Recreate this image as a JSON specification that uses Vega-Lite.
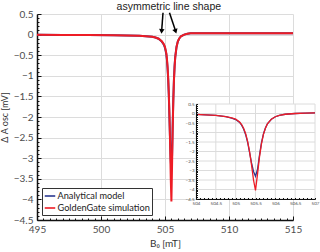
{
  "$schema": "https://vega.github.io/schema/vega-lite/v6.json",
  "width": 256,
  "height": 206,
  "autosize": {"type": "none"},
  "padding": {"left": 37, "top": 14, "right": 27, "bottom": 32},
  "config": {
    "view": {"stroke": null},
    "font": "Lato",
    "axis": {
      "labelFont": "Lato",
      "titleFont": "Lato",
      "labelColor": "#4d4d4d",
      "titleColor": "#333333",
      "titleFontWeight": "normal",
      "domainColor": "#111111",
      "tickColor": "#111111",
      "gridColor": "#dcdcdc",
      "labelOverlap": false,
      "labelFlush": false
    }
  },
  "datasets": {
    "curves": [
      {"B": 495, "A": -0.005, "series": "Analytical model"},
      {"B": 497, "A": -0.008, "series": "Analytical model"},
      {"B": 499, "A": -0.01, "series": "Analytical model"},
      {"B": 501, "A": -0.015, "series": "Analytical model"},
      {"B": 502, "A": -0.02, "series": "Analytical model"},
      {"B": 503, "A": -0.03, "series": "Analytical model"},
      {"B": 503.5, "A": -0.04, "series": "Analytical model"},
      {"B": 504, "A": -0.05, "series": "Analytical model"},
      {"B": 504.25, "A": -0.07, "series": "Analytical model"},
      {"B": 504.5, "A": -0.1, "series": "Analytical model"},
      {"B": 504.75, "A": -0.17, "series": "Analytical model"},
      {"B": 504.9, "A": -0.24, "series": "Analytical model"},
      {"B": 505, "A": -0.32, "series": "Analytical model"},
      {"B": 505.1, "A": -0.47, "series": "Analytical model"},
      {"B": 505.15, "A": -0.61, "series": "Analytical model"},
      {"B": 505.2, "A": -0.82, "series": "Analytical model"},
      {"B": 505.25, "A": -1.1, "series": "Analytical model"},
      {"B": 505.3, "A": -1.5, "series": "Analytical model"},
      {"B": 505.35, "A": -2.05, "series": "Analytical model"},
      {"B": 505.4, "A": -2.6, "series": "Analytical model"},
      {"B": 505.45, "A": -3.05, "series": "Analytical model"},
      {"B": 505.5, "A": -3.3, "series": "Analytical model"},
      {"B": 505.55, "A": -2.95, "series": "Analytical model"},
      {"B": 505.6, "A": -2.2, "series": "Analytical model"},
      {"B": 505.65, "A": -1.55, "series": "Analytical model"},
      {"B": 505.7, "A": -1.08, "series": "Analytical model"},
      {"B": 505.75, "A": -0.76, "series": "Analytical model"},
      {"B": 505.8, "A": -0.54, "series": "Analytical model"},
      {"B": 505.9, "A": -0.3, "series": "Analytical model"},
      {"B": 506, "A": -0.17, "series": "Analytical model"},
      {"B": 506.1, "A": -0.1, "series": "Analytical model"},
      {"B": 506.25, "A": -0.04, "series": "Analytical model"},
      {"B": 506.5, "A": 0.0, "series": "Analytical model"},
      {"B": 506.75, "A": 0.02, "series": "Analytical model"},
      {"B": 507, "A": 0.03, "series": "Analytical model"},
      {"B": 508, "A": 0.03, "series": "Analytical model"},
      {"B": 510, "A": 0.03, "series": "Analytical model"},
      {"B": 512, "A": 0.03, "series": "Analytical model"},
      {"B": 515, "A": 0.03, "series": "Analytical model"},
      {"B": 495, "A": -0.005, "series": "GoldenGate simulation"},
      {"B": 497, "A": -0.008, "series": "GoldenGate simulation"},
      {"B": 499, "A": -0.01, "series": "GoldenGate simulation"},
      {"B": 501, "A": -0.015, "series": "GoldenGate simulation"},
      {"B": 502, "A": -0.02, "series": "GoldenGate simulation"},
      {"B": 503, "A": -0.03, "series": "GoldenGate simulation"},
      {"B": 503.5, "A": -0.04, "series": "GoldenGate simulation"},
      {"B": 504, "A": -0.05, "series": "GoldenGate simulation"},
      {"B": 504.25, "A": -0.07, "series": "GoldenGate simulation"},
      {"B": 504.5, "A": -0.1, "series": "GoldenGate simulation"},
      {"B": 504.75, "A": -0.16, "series": "GoldenGate simulation"},
      {"B": 504.9, "A": -0.23, "series": "GoldenGate simulation"},
      {"B": 505, "A": -0.3, "series": "GoldenGate simulation"},
      {"B": 505.1, "A": -0.45, "series": "GoldenGate simulation"},
      {"B": 505.15, "A": -0.58, "series": "GoldenGate simulation"},
      {"B": 505.2, "A": -0.78, "series": "GoldenGate simulation"},
      {"B": 505.25, "A": -1.05, "series": "GoldenGate simulation"},
      {"B": 505.3, "A": -1.45, "series": "GoldenGate simulation"},
      {"B": 505.35, "A": -2.0, "series": "GoldenGate simulation"},
      {"B": 505.4, "A": -2.7, "series": "GoldenGate simulation"},
      {"B": 505.45, "A": -3.5, "series": "GoldenGate simulation"},
      {"B": 505.5, "A": -4.05, "series": "GoldenGate simulation"},
      {"B": 505.55, "A": -3.2, "series": "GoldenGate simulation"},
      {"B": 505.6, "A": -2.3, "series": "GoldenGate simulation"},
      {"B": 505.65, "A": -1.6, "series": "GoldenGate simulation"},
      {"B": 505.7, "A": -1.1, "series": "GoldenGate simulation"},
      {"B": 505.75, "A": -0.78, "series": "GoldenGate simulation"},
      {"B": 505.8, "A": -0.55, "series": "GoldenGate simulation"},
      {"B": 505.9, "A": -0.3, "series": "GoldenGate simulation"},
      {"B": 506, "A": -0.17, "series": "GoldenGate simulation"},
      {"B": 506.1, "A": -0.1, "series": "GoldenGate simulation"},
      {"B": 506.25, "A": -0.04, "series": "GoldenGate simulation"},
      {"B": 506.5, "A": 0.0, "series": "GoldenGate simulation"},
      {"B": 506.75, "A": 0.02, "series": "GoldenGate simulation"},
      {"B": 507, "A": 0.03, "series": "GoldenGate simulation"},
      {"B": 508, "A": 0.03, "series": "GoldenGate simulation"},
      {"B": 510, "A": 0.03, "series": "GoldenGate simulation"},
      {"B": 512, "A": 0.03, "series": "GoldenGate simulation"},
      {"B": 515, "A": 0.03, "series": "GoldenGate simulation"}
    ],
    "note": [{"B": 505.3, "A": 0.67, "label": "asymmetric line shape"}],
    "arrows": [
      {"B": 504.844, "A": 0.53, "B2": 504.74, "A2": 0.09, "side": "left"},
      {"B": 505.35, "A": 0.53, "B2": 505.828, "A2": 0.09, "side": "right"}
    ],
    "heads": [
      {"B": 504.737, "A": 0.08, "side": "left"},
      {"B": 505.83, "A": 0.08, "side": "right"}
    ],
    "box": [{"B": 504, "A": -4.5, "B2": 507, "A2": 0.5}],
    "igridv": [
      {"B": 504, "A": -4.5, "A2": 0.5},
      {"B": 504.5, "A": -4.5, "A2": 0.5},
      {"B": 505, "A": -4.5, "A2": 0.5},
      {"B": 505.5, "A": -4.5, "A2": 0.5},
      {"B": 506, "A": -4.5, "A2": 0.5},
      {"B": 506.5, "A": -4.5, "A2": 0.5},
      {"B": 507, "A": -4.5, "A2": 0.5}
    ],
    "igridh": [
      {"B": 504, "B2": 507, "A": 0.5},
      {"B": 504, "B2": 507, "A": 0},
      {"B": 504, "B2": 507, "A": -0.5},
      {"B": 504, "B2": 507, "A": -1},
      {"B": 504, "B2": 507, "A": -1.5},
      {"B": 504, "B2": 507, "A": -2},
      {"B": 504, "B2": 507, "A": -2.5},
      {"B": 504, "B2": 507, "A": -3},
      {"B": 504, "B2": 507, "A": -3.5},
      {"B": 504, "B2": 507, "A": -4},
      {"B": 504, "B2": 507, "A": -4.5}
    ]
  },
  "layer": [
    {
      "encoding": {
        "x": {
          "field": "B", "type": "quantitative",
          "scale": {"domain": [495, 515], "nice": false, "zero": false},
          "axis": {
            "title": "B₀ [mT]", "titleFontSize": 10, "titlePadding": 2,
            "orient": "bottom", "grid": true,
            "values": [495,495.5,496,496.5,497,497.5,498,498.5,499,499.5,500,500.5,501,501.5,502,502.5,503,503.5,504,504.5,505,505.5,506,506.5,507,507.5,508,508.5,509,509.5,510,510.5,511,511.5,512,512.5,513,513.5,514,514.5,515],
            "labelExpr": "datum.value % 5 === 0 ? format(datum.value, 'd') : ''",
            "labelFontSize": 10,
            "labelPadding": 8,
            "domainWidth": 1.5,
            "tickSize": {"condition": {"test": "datum.value % 5 === 0", "value": -4}, "value": -2},
            "gridOpacity": {"condition": {"test": "datum.value % 5 === 0", "value": 1}, "value": 0}
          }
        },
        "y": {
          "field": "A", "type": "quantitative",
          "scale": {"domain": [-4.5, 0.5], "nice": false, "zero": false},
          "axis": {
            "title": "Δ A osc [mV]", "titleFontSize": 9, "titlePadding": 4,
            "orient": "left", "grid": true,
            "values": [0.5,0.4,0.3,0.2,0.1,0,-0.1,-0.2,-0.3,-0.4,-0.5,-0.6,-0.7,-0.8,-0.9,-1,-1.1,-1.2,-1.3,-1.4,-1.5,-1.6,-1.7,-1.8,-1.9,-2,-2.1,-2.2,-2.3,-2.4,-2.5,-2.6,-2.7,-2.8,-2.9,-3,-3.1,-3.2,-3.3,-3.4,-3.5,-3.6,-3.7,-3.8,-3.9,-4,-4.1,-4.2,-4.3,-4.4,-4.5],
            "labelExpr": "abs(datum.value*2 - round(datum.value*2)) < 0.01 ? format(datum.value, '.2~f') : ''",
            "labelFontSize": 10,
            "labelPadding": 8,
            "domainWidth": 1.5,
            "tickSize": {"condition": {"test": "abs(datum.value*2 - round(datum.value*2)) < 0.01", "value": -4}, "value": -2},
            "gridOpacity": {"condition": {"test": "abs(datum.value*2 - round(datum.value*2)) < 0.01", "value": 1}, "value": 0}
          }
        }
      },
      "layer": [
        {
          "data": {"name": "curves"},
          "mark": {"type": "line", "strokeWidth": 2},
          "encoding": {
            "color": {
              "field": "series", "type": "nominal",
              "scale": {"domain": ["Analytical model", "GoldenGate simulation"], "range": ["#2b3990", "#ee1c25"]},
              "legend": {
                "title": null, "orient": "bottom-left", "offset": 5,
                "symbolType": "stroke", "symbolSize": 110, "symbolStrokeWidth": 1.6,
                "labelFont": "Lato", "labelFontSize": 9.2, "labelColor": "#222222", "labelOffset": 1,
                "strokeColor": "#333333", "fillColor": "white",
                "padding": 1.5, "rowPadding": 0
              }
            }
          }
        },
        {
          "data": {"name": "note"},
          "mark": {"type": "text", "fontSize": 10.5, "font": "Liberation Sans", "color": "#222222", "baseline": "middle"},
          "encoding": {"text": {"field": "label"}}
        },
        {
          "data": {"name": "arrows"},
          "mark": {"type": "rule", "color": "black", "strokeWidth": 1.5},
          "encoding": {"x2": {"field": "B2"}, "y2": {"field": "A2"}}
        },
        {
          "data": {"name": "heads"},
          "transform": [{"filter": "datum.side === 'left'"}],
          "mark": {"type": "point", "shape": "triangle-down", "filled": true, "color": "black", "opacity": 1, "size": 30, "angle": 4},
          "encoding": {}
        },
        {
          "data": {"name": "heads"},
          "transform": [{"filter": "datum.side === 'right'"}],
          "mark": {"type": "point", "shape": "triangle-down", "filled": true, "color": "black", "opacity": 1, "size": 30, "angle": 342},
          "encoding": {}
        }
      ]
    },
    {
      "encoding": {
        "x": {
          "field": "B", "type": "quantitative",
          "scale": {"domain": [504, 507], "range": [159, 278], "nice": false, "zero": false},
          "axis": {
            "title": null, "orient": "top", "offset": -185, "zindex": 2,
            "grid": false, "domain": true, "ticks": true, "labels": true,
            "values": [504,504.1,504.2,504.3,504.4,504.5,504.6,504.7,504.8,504.9,505,505.1,505.2,505.3,505.4,505.5,505.6,505.7,505.8,505.9,506,506.1,506.2,506.3,506.4,506.5,506.6,506.7,506.8,506.9,507],
            "labelExpr": "abs(datum.value*2 - round(datum.value*2)) < 0.01 ? format(datum.value, '.1~f') : ''",
            "labelFontSize": 4.5, "labelBaseline": "top", "labelPadding": -3,
            "domainWidth": 1,
            "tickSize": 1.5
          }
        },
        "y": {
          "field": "A", "type": "quantitative",
          "scale": {"domain": [-4.5, 0.5], "range": [185, 90], "nice": false, "zero": false},
          "axis": {
            "title": null, "orient": "right", "offset": -97, "zindex": 2,
            "grid": false, "domain": true, "ticks": true, "labels": true,
            "values": [0.5,0.4,0.3,0.2,0.1,0,-0.1,-0.2,-0.3,-0.4,-0.5,-0.6,-0.7,-0.8,-0.9,-1,-1.1,-1.2,-1.3,-1.4,-1.5,-1.6,-1.7,-1.8,-1.9,-2,-2.1,-2.2,-2.3,-2.4,-2.5,-2.6,-2.7,-2.8,-2.9,-3,-3.1,-3.2,-3.3,-3.4,-3.5,-3.6,-3.7,-3.8,-3.9,-4,-4.1,-4.2,-4.3,-4.4,-4.5],
            "labelExpr": "abs(datum.value*2 - round(datum.value*2)) < 0.01 ? format(datum.value, '.2~f') : ''",
            "labelFontSize": 4.5, "labelAlign": "right", "labelPadding": -3.5,
            "domainWidth": 1,
            "tickSize": 1.5
          }
        }
      },
      "layer": [
        {
          "data": {"name": "box"},
          "mark": {"type": "rect", "color": "white", "opacity": 1},
          "encoding": {"x2": {"field": "B2"}, "y2": {"field": "A2"}}
        },
        {
          "data": {"name": "igridv"},
          "mark": {"type": "rule", "color": "#dcdcdc", "strokeWidth": 1},
          "encoding": {"y2": {"field": "A2"}}
        },
        {
          "data": {"name": "igridh"},
          "mark": {"type": "rule", "color": "#dcdcdc", "strokeWidth": 1},
          "encoding": {"x2": {"field": "B2"}}
        },
        {
          "data": {"name": "curves"},
          "transform": [{"filter": "datum.B >= 504 && datum.B <= 507"}],
          "mark": {"type": "line", "strokeWidth": 1.3},
          "encoding": {
            "color": {"field": "series", "type": "nominal"}
          }
        }
      ]
    }
  ],
  "resolve": {
    "scale": {"x": "independent", "y": "independent"},
    "axis": {"x": "independent", "y": "independent"}
  }
}
